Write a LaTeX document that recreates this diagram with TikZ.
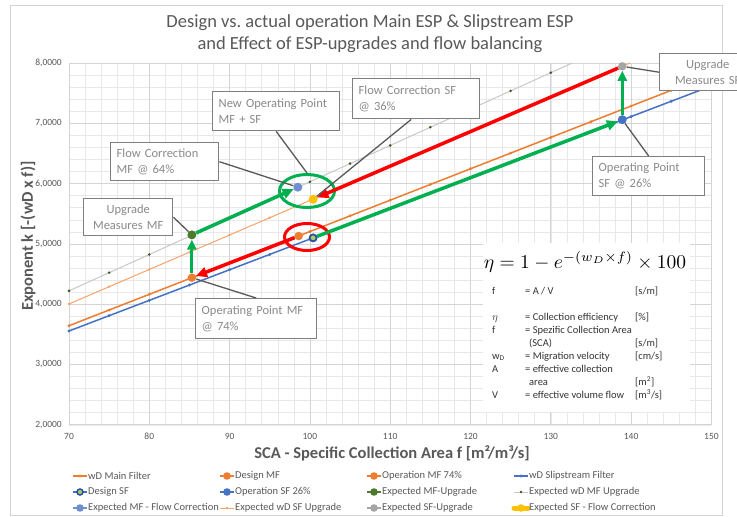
\documentclass[tikz,border=0pt]{standalone}
\usepackage{fontspec}
\setmainfont{Carlito}
\usetikzlibrary{arrows.meta,shapes.geometric}
\pgfdeclarelayer{bg}
\pgfsetlayers{bg,main}
\definecolor{mforange}{HTML}{ED7D31}
\definecolor{sfblue}{HTML}{4472C4}
\definecolor{sfuorange}{HTML}{F5A46C}
\definecolor{mfugrey}{HTML}{C8C8C8}
\definecolor{mfugreen}{HTML}{375623}
\definecolor{upgreen}{HTML}{4E7A2E}
\definecolor{fcblue}{HTML}{6F8FD0}
\definecolor{upgrey}{HTML}{A5A5A5}
\definecolor{fcyellow}{HTML}{FFC000}
\definecolor{dsfedge}{HTML}{2F4FA0}
\definecolor{dsfcenter}{HTML}{A9D05A}
\definecolor{arrgreen}{HTML}{00B050}
\definecolor{arrred}{HTML}{FF0000}
\definecolor{txtgrey}{HTML}{595959}
\definecolor{boxgrey}{HTML}{7F7F7F}
\definecolor{boxtxt}{HTML}{8A8A8A}
\definecolor{gridmajor}{HTML}{D4D4D4}
\definecolor{gridminor}{HTML}{E8E8E8}
\newcommand{\lgdentry}[6]{%
  \draw[#3] (#1,#2) -- ++(14,0);
  \path[#4] (#1+7,#2) circle;
  \node[legtext] (#5) at (#1+15,#2) {#6};
}
\begin{document}
\begin{tikzpicture}[x=1pt,y=-1pt,
  minorgrid/.style={gridminor,line width=0.5pt},
  majorgrid/.style={gridmajor,line width=0.7pt},
  ptnode/.style={circle,inner sep=0pt,minimum size=8.5pt},
  redarr/.style={arrred,line width=3.5pt,-{Triangle[length=11pt,width=10pt]}},
  greenarr/.style={arrgreen,line width=3.5pt,-{Triangle[length=11pt,width=10pt]}},
  greenarrv/.style={arrgreen,line width=3pt,-{Triangle[length=10pt,width=9pt]}},
  callout/.style={draw=boxgrey,line width=1.4pt,fill=white,text=boxtxt,
    font=\fontsize{12.5}{16}\selectfont,inner xsep=6pt,inner ysep=4pt,anchor=north west},
  leader/.style={txtgrey,line width=1.3pt},
  ticklab/.style={text=txtgrey,font=\fontsize{9.5}{11}\selectfont,inner sep=0pt},
  legtext/.style={text=txtgrey,font=\fontsize{10.5}{12}\selectfont,anchor=west,inner sep=0pt},
  axistitle/.style={text=txtgrey,font=\fontsize{16.5}{20}\selectfont\bfseries,inner sep=0pt}
]
\useasboundingbox (0,0) rectangle (737,517);
\begin{pgfonlayer}{bg}
\fill[white] (0,0) rectangle (737,517);
\end{pgfonlayer}
\draw[gridmajor,line width=0.8pt] (10,5) rectangle (722,515);

% title
\node[text=txtgrey,font=\fontsize{18.5}{22}\selectfont,align=center] (title) at (370,34)
  {Design vs.\ actual operation Main ESP \& Slipstream ESP\\and Effect of ESP-upgrades and flow balancing};

% data region
\begin{scope}[x=8.03pt,y=60.3pt,shift={(-493.1pt,-545.4pt)}]
\begin{pgfonlayer}{bg}
  \foreach \f in {70,72,...,150} \draw[minorgrid] (\f,2) -- (\f,8);
  \foreach \i in {0,...,30} \draw[minorgrid] (70,{2+\i*0.2}) -- (150,{2+\i*0.2});
  \foreach \f in {70,80,...,150} \draw[majorgrid] (\f,2) -- (\f,8);
  \foreach \k in {2,...,8} \draw[majorgrid] (70,\k) -- (150,\k);
  % series lines
  \draw[mfugrey,line width=1pt] (70,{70*0.0603}) -- ({8/0.0603},8);
  \foreach \f in {70,75,...,130} \fill[mfugreen] (\f,{\f*0.0603}) circle[radius=1.4pt];
  \draw[sfuorange,line width=1pt] (70,{70*0.0572}) -- ({8/0.0572},8);
  \foreach \f in {70,75,...,135} \fill[sfuorange] (\f,{\f*0.0572}) circle[radius=1.4pt];
  \draw[mforange,line width=1.5pt] (70,{70*0.05205}) -- (150,{150*0.05205});
  \foreach \f in {70,75,...,150} \fill[mforange] (\f,{\f*0.05205}) circle[radius=1.6pt];
  \draw[sfblue,line width=1.5pt] (70,{70*0.0508}) -- (150,{150*0.0508});
  \foreach \f in {70,75,...,150} \fill[sfblue] (\f,{\f*0.0508}) circle[radius=1.6pt];
\end{pgfonlayer}
  % operating points
  \node[ptnode,fill=mforange] (opMF) at (85.3,4.44) {};
  \node[ptnode,fill=upgreen,minimum size=9pt] (upMF) at (85.3,5.15) {};
  \node[ptnode,fill=fcblue,minimum size=9pt] (expMF) at (98.5,5.94) {};
  \node[ptnode,fill=fcyellow,minimum size=9pt] (expSF) at (100.4,5.74) {};
  \node[ptnode,fill=mforange] (designMF) at (98.6,5.13) {};
  \node[ptnode,fill=dsfcenter,draw=dsfedge,line width=1.8pt,minimum size=7pt] (designSF) at (100.4,5.10) {};
  \node[ptnode,fill=sfblue,minimum size=9pt] (opSF) at (138.9,7.06) {};
  \node[ptnode,fill=upgrey] (upSF) at (138.9,7.945) {};
\end{scope}

% formula panel, ellipses, arrows (behind the points)
\begin{pgfonlayer}{bg}
  \fill[white] (483,243) rectangle (690,412);
  \node[ellipse,draw=arrgreen,line width=3pt,minimum width=55pt,minimum height=33pt,inner sep=0pt] (newOP) at (307,191) {};
  \node[ellipse,draw=arrred,line width=3pt,minimum width=45pt,minimum height=27pt,inner sep=0pt] (designOP) at (307,237) {};
  \draw[redarr] (upSF) -- (expSF);
  \draw[redarr] (designMF) -- (opMF);
  \draw[greenarr] (designSF) -- (opSF);
  \draw[greenarrv] (opSF) -- (upSF);
  \draw[greenarrv] (opMF) -- (upMF);
  \draw[greenarr] (upMF) -- (expMF);
\end{pgfonlayer}

\node (formula) at (585,262) {\scalebox{1.95}{$\eta = 1 - e^{-(w_D\times f)}\times 100$}};
\node[anchor=north west,inner sep=0pt,text=black!80,font=\fontsize{10.5}{13}\selectfont] (symtab) at (492,285)
{\begin{tabular}{@{}p{33pt}@{}p{110pt}@{}l@{}}
f & = A / V & [s/m]\\
 & & \\
$\eta$ & = Collection efficiency & [\%]\\
f & = Spezific Collection Area & \\
 & \hspace*{4pt}(SCA) & [s/m]\\
w\textsubscript{D} & = Migration velocity & [cm/s]\\
A & = effective collection & \\
 & \hspace*{4pt}area & [m\textsuperscript{2}]\\
V & = effective volume flow & [m\textsuperscript{3}/s]
\end{tabular}};

% axis tick labels
\foreach \k in {2,...,8} \node[ticklab,anchor=east] (ylab\k) at (62,{63+(8-\k)*60.3}) {\k,0000};
\foreach \f in {70,80,...,150} \node[ticklab] (xlab\f) at ({69+(\f-70)*8.03},436) {\f};
\node[axistitle] (xtitle) at (392,453) {SCA - Specific Collection Area f [m²/m³/s]};
\node[axistitle,rotate=90] (ytitle) at (28,236) {Exponent k [-(wD x f)]};

% callouts
\node[callout,text width=96pt,align=left,minimum height=38pt] (fcMFbox) at (110,142) {Flow Correction\\MF @ 64\%};
\node[callout,text width=115pt,align=left,minimum height=39pt] (newOPbox) at (212,91) {New Operating Point\\MF + SF};
\node[callout,text width=115pt,align=left,minimum height=40pt] (fcSFbox) at (352,78) {Flow Correction SF\\@ 36\%};
\node[callout,text width=84pt,align=center,minimum height=37pt] (upSFbox) at (659,53) {Upgrade\\Measures SF};
\node[callout,text width=100pt,align=left,minimum height=39pt] (opSFbox) at (592,156) {Operating Point\\SF @ 26\%};
\node[callout,text width=77pt,align=center,minimum height=37pt] (upMFbox) at (83,198) {Upgrade\\Measures MF};
\node[callout,text width=109pt,align=left,minimum height=40pt] (opMFbox) at (195,298) {Operating Point MF\\@ 74\%};
\draw[leader] (fcMFbox.east) -- (expMF);
\draw[leader] (newOPbox.south) -- (newOP.north);
\draw[leader] ([xshift=-5pt]fcSFbox.south) -- (expSF);
\draw[leader] (upSFbox.west) -- (upSF);
\draw[leader] (opSFbox.north) -- (opSF);
\draw[leader] (upMFbox.east) -- (upMF);
\draw[leader] (opMFbox.north) -- (opMF);

% legend
\lgdentry{73}{476}{mforange,line width=1.5pt}{fill=mforange,radius=1.6pt}{lg1}{wD Main Filter}
\lgdentry{220}{476}{mforange,line width=1.5pt}{fill=mforange,radius=3.8pt}{lg2}{Design MF}
\lgdentry{367}{476}{mforange,line width=1.5pt}{fill=mforange,radius=3.8pt}{lg3}{Operation MF 74\%}
\lgdentry{514}{476}{sfblue,line width=1.5pt}{fill=sfblue,radius=1.6pt}{lg4}{wD Slipstream Filter}
\lgdentry{73}{492}{sfblue,line width=1.5pt}{fill=dsfcenter,draw=dsfedge,line width=1.5pt,radius=3pt}{lg5}{Design SF}
\lgdentry{220}{492}{sfblue,line width=1.5pt}{fill=sfblue,radius=3.8pt}{lg6}{Operation SF 26\%}
\lgdentry{367}{492}{upgreen,line width=1.5pt}{fill=upgreen,radius=3.8pt}{lg7}{Expected MF-Upgrade}
\lgdentry{514}{492}{mfugrey,line width=1pt}{fill=mfugreen,radius=1.4pt}{lg8}{Expected wD MF Upgrade}
\lgdentry{73}{508}{fcblue,line width=1.5pt}{fill=fcblue,radius=3.8pt}{lg9}{Expected MF - Flow Correction}
\lgdentry{220}{508}{sfuorange,line width=1pt}{fill=sfuorange,radius=1.4pt}{lg10}{Expected wD SF Upgrade}
\lgdentry{367}{508}{upgrey,line width=1.5pt}{fill=upgrey,radius=3.8pt}{lg11}{Expected SF-Upgrade}
\lgdentry{514}{508}{fcyellow,line width=5pt,line cap=round}{fill=fcyellow,radius=3.8pt}{lg12}{Expected SF - Flow Correction}
\end{tikzpicture}
\end{document}
